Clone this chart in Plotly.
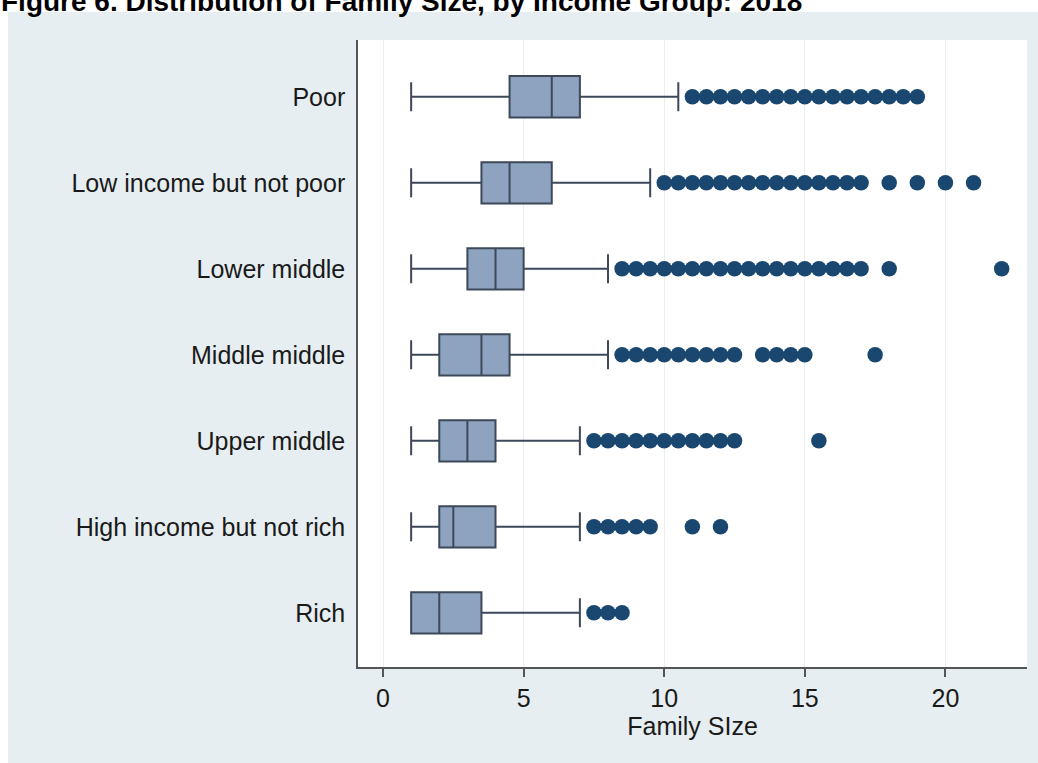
import plotly.graph_objects as go

categories = ["Poor", "Low income but not poor", "Lower middle", "Middle middle",
              "Upper middle", "High income but not rich", "Rich"]
lower_whisker = [1, 1, 1, 1, 1, 1, 1]
q1 = [4.5, 3.5, 3, 2, 2, 2, 1]
median = [6, 4.5, 4, 3.5, 3, 2.5, 2]
q3 = [7, 6, 5, 4.5, 4, 4, 3.5]
upper_whisker = [10.5, 9.5, 8, 8, 7, 7, 7]

out_poor = [11, 11.5, 12, 12.5, 13, 13.5, 14, 14.5, 15, 15.5, 16, 16.5, 17, 17.5, 18, 18.5, 19]
out_low = [10, 10.5, 11, 11.5, 12, 12.5, 13, 13.5, 14, 14.5, 15, 15.5, 16, 16.5, 17, 18, 19, 20, 21]
out_lower_mid = [8.5, 9, 9.5, 10, 10.5, 11, 11.5, 12, 12.5, 13, 13.5, 14, 14.5, 15, 15.5, 16, 16.5, 17, 18, 22]
out_middle_mid = [8.5, 9, 9.5, 10, 10.5, 11, 11.5, 12, 12.5, 13.5, 14, 14.5, 15, 17.5]
out_upper_mid = [7.5, 8, 8.5, 9, 9.5, 10, 10.5, 11, 11.5, 12, 12.5, 15.5]
out_high = [7.5, 8, 8.5, 9, 9.5, 11, 12]
out_rich = [7.5, 8, 8.5]
outliers = [out_poor, out_low, out_lower_mid, out_middle_mid, out_upper_mid, out_high, out_rich]

x_ticks = [0, 5, 10, 15, 20]
title_text = "Figure 6. Distribution of Family Size, by Income Group: 2018"
x_title = "Family SIze"

W, H = 1038, 763
ML, MR, MT, MB = 358, 11, 40, 96
pw, ph = W - ML - MR, H - MT - MB

def px_x(p):
    return (p - ML) / pw

def px_y(p):
    return (H - MB - p) / ph

FONT = "Liberation Sans, Arial, sans-serif"
fig = go.Figure()

fig.add_trace(go.Box(
    y=categories, q1=q1, median=median, q3=q3,
    lowerfence=lower_whisker, upperfence=upper_whisker,
    orientation="h", boxpoints=False,
    fillcolor="#8ea3bf", line=dict(color="#3d4858", width=2),
    whiskerwidth=0.7, width=0.48, showlegend=False, hoverinfo="skip",
))

ox, oy = [], []
for cat, vals in zip(categories, outliers):
    ox.extend(vals)
    oy.extend([cat] * len(vals))
fig.add_trace(go.Scatter(
    x=ox, y=oy, mode="markers",
    marker=dict(color="#1a476f", size=15.5, line=dict(width=0)),
    showlegend=False, hoverinfo="skip",
))

fig.update_layout(
    width=W, height=H,
    margin=dict(l=ML, r=MR, t=MT, b=MB),
    paper_bgcolor="white", plot_bgcolor="rgba(0,0,0,0)",
    font=dict(family=FONT, size=25, color="#1a1a1a"),
    shapes=[
        dict(type="rect", xref="paper", yref="paper", layer="below",
             x0=px_x(8), x1=px_x(W + 5), y0=px_y(H + 5), y1=px_y(12),
             fillcolor="#e6eef1", line=dict(width=0)),
        dict(type="rect", xref="paper", yref="paper", layer="below",
             x0=0, x1=1, y0=0, y1=1,
             fillcolor="white", line=dict(width=0)),
    ],
    annotations=[
        dict(text="<b>" + title_text + "</b>", xref="paper", yref="paper",
             x=px_x(-1), y=px_y(19), xanchor="left", yanchor="bottom",
             showarrow=False, font=dict(family=FONT, size=28, color="black")),
    ],
)

fig.update_xaxes(
    range=[-0.89, 22.9], tickvals=x_ticks,
    showgrid=True, gridcolor="#e9eff1", gridwidth=1, zeroline=False,
    showline=True, linecolor="#555555", linewidth=1.5,
    ticks="outside", ticklen=8, tickwidth=1.5, tickcolor="#555555",
    tickfont=dict(size=25, color="#1a1a1a"),
    title=dict(text=x_title, font=dict(size=25, color="#1a1a1a"), standoff=6),
)
fig.update_yaxes(
    type="category", categoryorder="array", categoryarray=categories,
    range=[6.63, -0.66],
    showgrid=False, zeroline=False,
    showline=True, linecolor="#555555", linewidth=1.5,
    ticks="outside", ticklen=6, tickcolor="rgba(0,0,0,0)",
    tickfont=dict(size=25, color="#1a1a1a"),
)

fig.write_html("out.html", config={"displayModeBar": False},
               post_script="document.body.style.margin='0';document.body.style.overflow='hidden';")
